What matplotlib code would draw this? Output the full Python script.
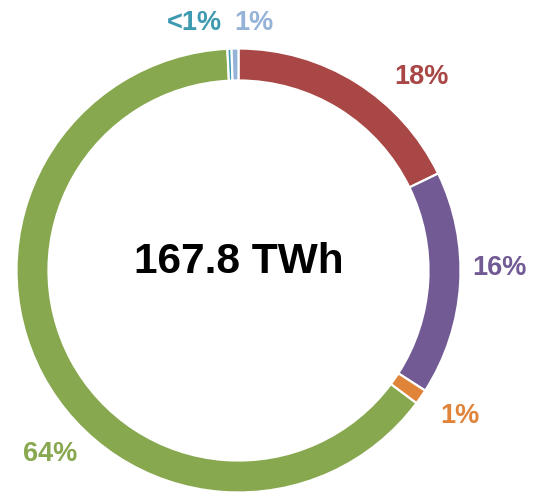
import matplotlib
matplotlib.use('Agg')
import matplotlib.pyplot as plt

# share of the 167.8 TWh total, clockwise from 12 o'clock
shares = [17.8, 16.3, 1.1, 64.0, 0.3, 0.5]
labels = ['18%', '16%', '1%', '64%', '<1%', '1%']
colors = ['#A84745', '#725A94', '#E0843A', '#88A84F', '#3E9AB0', '#95B3D7']
total_label = '167.8 TWh'

# label anchor points in pixel coords (x right, y down)
label_xy = [(421, 77), (499, 268), (459.5, 416), (50.5, 454), (194, 22.5), (253.5, 22.5)]

W, H = 537, 495
fig = plt.figure(figsize=(W / 100, H / 100), dpi=100)
ax = fig.add_axes([0, 0, 1, 1])

cx, cy = 238.5, H - 270.5
r_out = 222
ring = 32

ax.pie(shares, colors=colors, startangle=90, counterclock=False,
       center=(cx, cy), radius=r_out, frame=True,
       wedgeprops=dict(width=ring, edgecolor='white', linewidth=1.6))
ax.set_xlim(0, W)
ax.set_ylim(0, H)
ax.set_aspect('equal')
ax.axis('off')

for lab, (px, py), col in zip(labels, label_xy, colors):
    ax.text(px, H - py, lab, ha='center', va='center', color=col,
            fontsize=19.5, fontweight='bold', family=['Liberation Sans', 'DejaVu Sans'])

ax.text(239, H - 262, total_label, ha='center', va='center', color='black',
        fontsize=30.5, fontweight='bold', family=['Liberation Sans', 'DejaVu Sans'])

fig.savefig('out.png', dpi=100)
